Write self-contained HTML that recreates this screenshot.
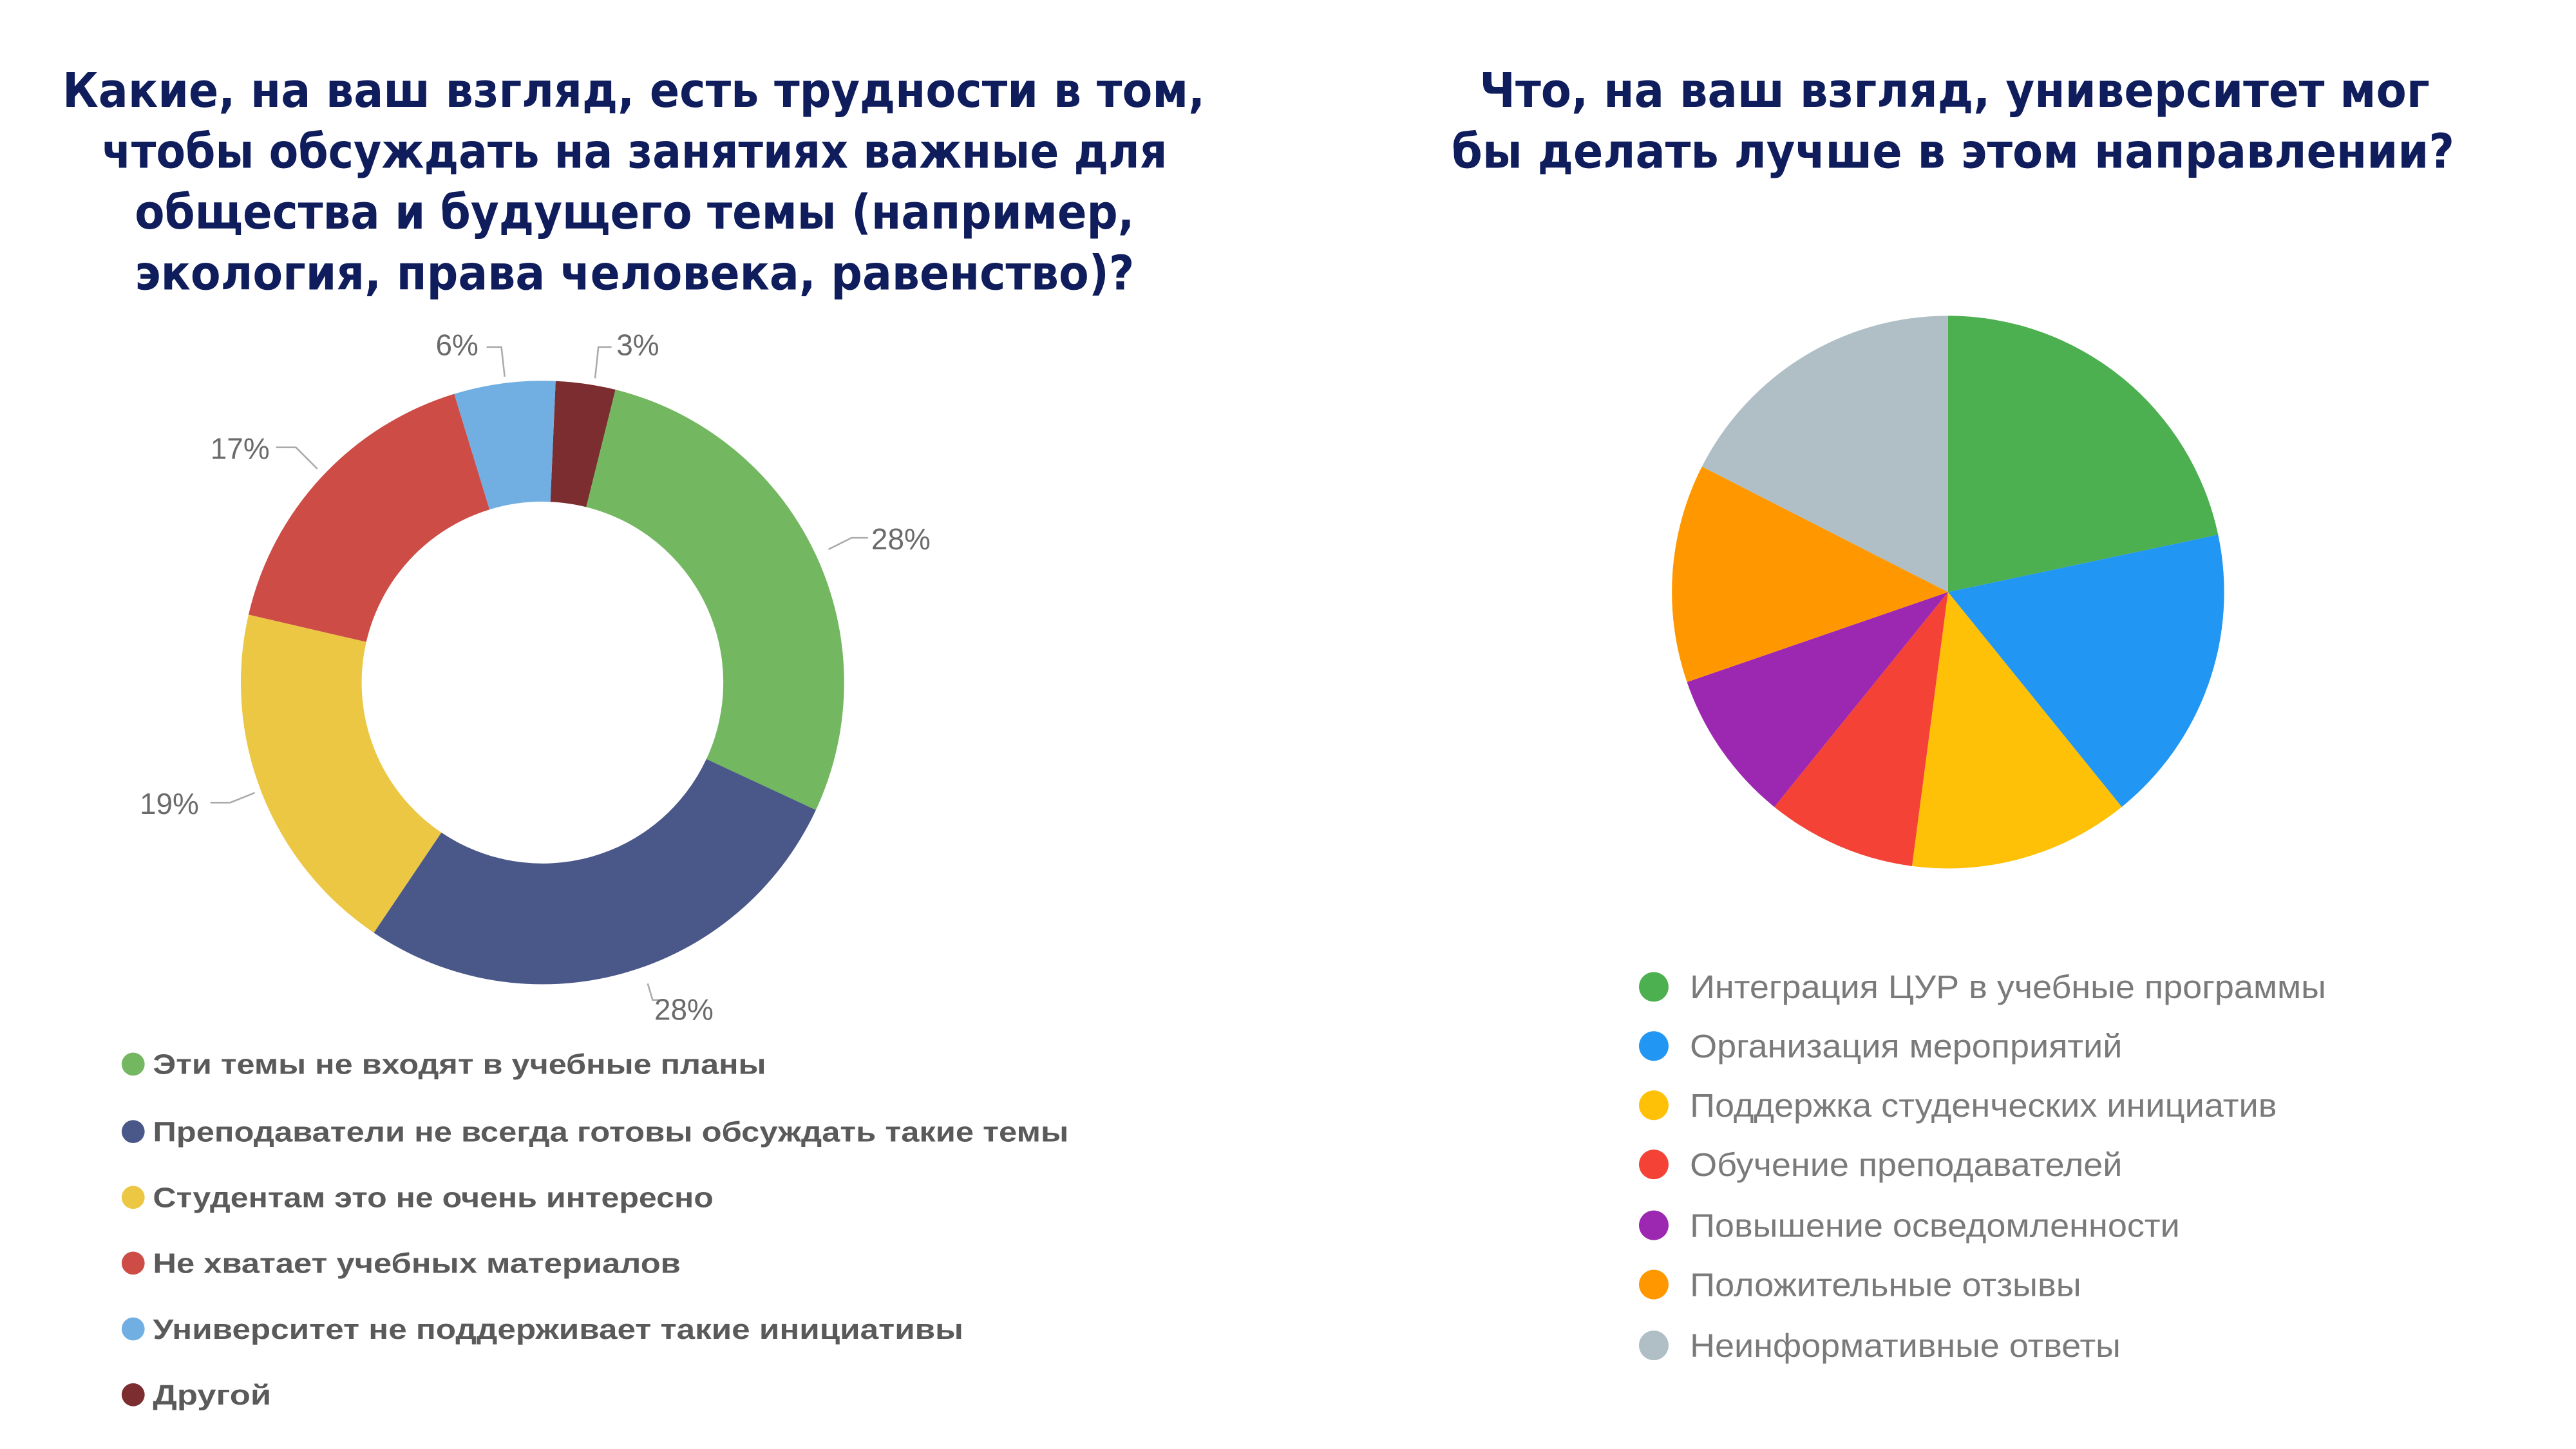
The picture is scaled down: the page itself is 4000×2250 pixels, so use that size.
<!DOCTYPE html>
<html><head><meta charset="utf-8"><style>
html,body{margin:0;padding:0;background:#fff;}
svg{display:block;}
.t{font-family:"DejaVu Sans","Liberation Sans",sans-serif;font-weight:bold;fill:#0f1d5c;font-size:29px;}
.p{font-family:"Liberation Sans Narrow","Liberation Sans",sans-serif;fill:#6b6b6b;font-size:18px;}
.l{font-family:"Liberation Sans",sans-serif;font-weight:bold;fill:#5a5a5a;font-size:17px;}
.r{font-family:"Liberation Sans",sans-serif;fill:#7a7a7a;font-size:20px;}
</style></head><body>
<svg width="4000" height="2250" viewBox="0 0 1567 881" preserveAspectRatio="none" xmlns="http://www.w3.org/2000/svg">
<rect width="1567" height="881" fill="#fff"/>
<text class="t" x="38" y="65" textLength="695" lengthAdjust="spacingAndGlyphs">Какие, на ваш взгляд, есть трудности в том,</text>
<text class="t" x="62" y="102" textLength="648" lengthAdjust="spacingAndGlyphs">чтобы обсуждать на занятиях важные для</text>
<text class="t" x="82" y="139" textLength="608" lengthAdjust="spacingAndGlyphs">общества и будущего темы (например,</text>
<text class="t" x="82" y="176" textLength="608" lengthAdjust="spacingAndGlyphs">экология, права человека, равенство)?</text>
<text class="t" x="900" y="65" textLength="578" lengthAdjust="spacingAndGlyphs">Что, на ваш взгляд, университет мог</text>
<text class="t" x="883" y="102" textLength="610" lengthAdjust="spacingAndGlyphs">бы делать лучше в этом направлении?</text>
<path d="M338.0,231.7 A183.5,183.5 0 0 1 374.4,236.9 L356.6,308.3 A110,110 0 0 0 334.8,305.1 Z" fill="#7b2d30"/>
<path d="M374.4,236.9 A183.5,183.5 0 0 1 496.3,492.5 L429.7,461.5 A110,110 0 0 0 356.6,308.3 Z" fill="#73b761"/>
<path d="M496.3,492.5 A183.5,183.5 0 0 1 227.4,567.1 L268.5,506.2 A110,110 0 0 0 429.7,461.5 Z" fill="#4a5889"/>
<path d="M227.4,567.1 A183.5,183.5 0 0 1 151.2,373.7 L222.8,390.3 A110,110 0 0 0 268.5,506.2 Z" fill="#ebc744"/>
<path d="M151.2,373.7 A183.5,183.5 0 0 1 276.3,239.5 L297.8,309.8 A110,110 0 0 0 222.8,390.3 Z" fill="#cd4c46"/>
<path d="M276.3,239.5 A183.5,183.5 0 0 1 338.0,231.7 L334.8,305.1 A110,110 0 0 0 297.8,309.8 Z" fill="#71afe2"/>
<g stroke="#aaa" stroke-width="1" fill="none">
<polyline points="296,211 305,211 307,229"/>
<polyline points="372,211 364,211 362,230"/>
<polyline points="168,272 180,272 193,285"/>
<polyline points="528,327 518,327 504,334"/>
<polyline points="128,488 140,488 155,482"/>
<polyline points="394,598 397,608 405,608"/>
</g>
<text class="p" x="265" y="216">6%</text>
<text class="p" x="375" y="216">3%</text>
<text class="p" x="128" y="279">17%</text>
<text class="p" x="530" y="334">28%</text>
<text class="p" x="85" y="495">19%</text>
<text class="p" x="398" y="620">28%</text>
<circle cx="81" cy="647" r="7" fill="#73b761"/><text class="l" x="93" y="653" textLength="373" lengthAdjust="spacingAndGlyphs">Эти темы не входят в учебные планы</text>
<circle cx="81" cy="688" r="7" fill="#4a5889"/><text class="l" x="93" y="694" textLength="557" lengthAdjust="spacingAndGlyphs">Преподаватели не всегда готовы обсуждать такие темы</text>
<circle cx="81" cy="728" r="7" fill="#ebc744"/><text class="l" x="93" y="734" textLength="341" lengthAdjust="spacingAndGlyphs">Студентам это не очень интересно</text>
<circle cx="81" cy="768" r="7" fill="#cd4c46"/><text class="l" x="93" y="774" textLength="321" lengthAdjust="spacingAndGlyphs">Не хватает учебных материалов</text>
<circle cx="81" cy="808" r="7" fill="#71afe2"/><text class="l" x="93" y="814" textLength="493" lengthAdjust="spacingAndGlyphs">Университет не поддерживает такие инициативы</text>
<circle cx="81" cy="848" r="7" fill="#7b2d30"/><text class="l" x="93" y="854" textLength="72" lengthAdjust="spacingAndGlyphs">Другой</text>
<path d="M1185,360 L1185,192 A168,168 0 0 1 1349.3,325.1 Z" fill="#4caf50"/>
<path d="M1185,360 L1349.3,325.1 A168,168 0 0 1 1290.7,490.6 Z" fill="#2196f3"/>
<path d="M1185,360 L1290.7,490.6 A168,168 0 0 1 1163.1,526.6 Z" fill="#ffc107"/>
<path d="M1185,360 L1163.1,526.6 A168,168 0 0 1 1079.3,490.6 Z" fill="#f44336"/>
<path d="M1185,360 L1079.3,490.6 A168,168 0 0 1 1026.2,414.7 Z" fill="#9c27b0"/>
<path d="M1185,360 L1026.2,414.7 A168,168 0 0 1 1035.3,283.7 Z" fill="#ff9800"/>
<path d="M1185,360 L1035.3,283.7 A168,168 0 0 1 1185,192 Z" fill="#b0bec5"/>
<circle cx="1006" cy="600" r="9" fill="#4caf50"/><text class="r" x="1028" y="607" textLength="387" lengthAdjust="spacingAndGlyphs">Интеграция ЦУР в учебные программы</text>
<circle cx="1006" cy="636" r="9" fill="#2196f3"/><text class="r" x="1028" y="643" textLength="263" lengthAdjust="spacingAndGlyphs">Организация мероприятий</text>
<circle cx="1006" cy="672" r="9" fill="#ffc107"/><text class="r" x="1028" y="679" textLength="357" lengthAdjust="spacingAndGlyphs">Поддержка студенческих инициатив</text>
<circle cx="1006" cy="708" r="9" fill="#f44336"/><text class="r" x="1028" y="715" textLength="263" lengthAdjust="spacingAndGlyphs">Обучение преподавателей</text>
<circle cx="1006" cy="745" r="9" fill="#9c27b0"/><text class="r" x="1028" y="752" textLength="298" lengthAdjust="spacingAndGlyphs">Повышение осведомленности</text>
<circle cx="1006" cy="781" r="9" fill="#ff9800"/><text class="r" x="1028" y="788" textLength="238" lengthAdjust="spacingAndGlyphs">Положительные отзывы</text>
<circle cx="1006" cy="818" r="9" fill="#b0bec5"/><text class="r" x="1028" y="825" textLength="262" lengthAdjust="spacingAndGlyphs">Неинформативные ответы</text>
</svg>
</body></html>
